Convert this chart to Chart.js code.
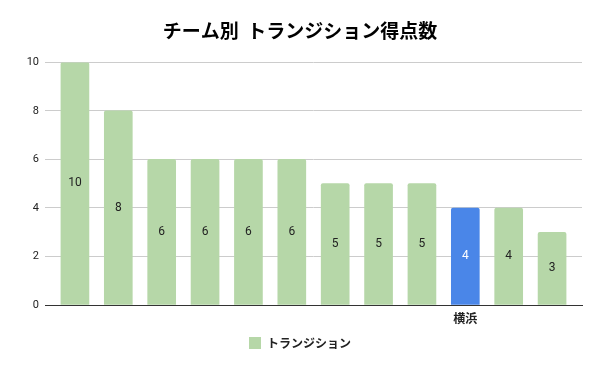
<!DOCTYPE html>
<html>
<head>
<meta charset="utf-8">
<script src="https://cdn.jsdelivr.net/npm/chart.js@4"></script>
<style>
html,body{margin:0;padding:0;background:#fff;}
#wrap{width:600px;height:371px;}
</style>
</head>
<body>
<div id="wrap"><canvas id="c" width="600" height="371"></canvas></div>
<script>
const chartTitle = 'チーム別  トランジション得点数';
const seriesName = 'トランジション';
const categories = ['', '', '', '', '', '', '', '', '', '横浜', '', ''];
const values = [10, 8, 6, 6, 6, 6, 5, 5, 5, 4, 4, 3];
const yTicks = [0, 2, 4, 6, 8, 10];
const highlightCategory = '横浜';

const GREEN = '#b6d7a8';
const BLUE = '#4a86e8';
const FONT = "Roboto, 'Noto Sans CJK JP', sans-serif";
const CJK = "'Noto Sans CJK JP', Roboto, sans-serif";

const labelPlugin = {
  id: 'barLabels',
  afterDatasetsDraw(chart) {
    const ctx = chart.ctx;
    const meta = chart.getDatasetMeta(0);
    ctx.save();
    ctx.font = '12px ' + FONT;
    ctx.textAlign = 'center';
    ctx.textBaseline = 'middle';
    meta.data.forEach((el, i) => {
      ctx.fillStyle = categories[i] === highlightCategory ? '#ffffff' : '#222222';
      ctx.fillText(String(values[i]), el.x, (el.y + el.base) / 2);
    });
    ctx.restore();
  }
};

new Chart(document.getElementById('c'), {
  type: 'bar',
  data: {
    datasets: [{
      label: seriesName,
      data: values.map((v, i) => ({x: i, y: v})),
      backgroundColor: (c) => categories[c.dataIndex] === highlightCategory ? BLUE : GREEN,
      borderWidth: 0,
      borderRadius: {topLeft: 2, topRight: 2, bottomLeft: 0, bottomRight: 0},
      borderSkipped: 'bottom',
      barThickness: 28
    }]
  },
  options: {
    responsive: false,
    animation: false,
    devicePixelRatio: 1,
    layout: {padding: {left: 18, right: 18, top: 0, bottom: 12}},
    plugins: {
      title: {
        display: true,
        text: chartTitle,
        color: '#000',
        font: {family: CJK, size: 19, weight: 'bold'},
        padding: {top: 19, bottom: 20.6}
      },
      legend: {
        display: true,
        position: 'bottom',
        labels: {
          color: '#222',
          font: {family: CJK, size: 12, weight: 'bold'},
          boxWidth: 12,
          boxHeight: 12,
          padding: 10
        }
      },
      tooltip: {enabled: false}
    },
    scales: {
      x: {
        type: 'linear',
        offset: false,
        min: -0.69,
        max: 11.69,
        grid: {display: false, drawTicks: false},
        border: {display: true, color: '#333', width: 1},
        afterBuildTicks: (s) => { s.ticks = categories.map((c, i) => ({value: i})); },
        ticks: {
          autoSkip: false,
          maxRotation: 0,
          padding: 6,
          color: '#222',
          font: {family: CJK, size: 12, weight: 'bold'},
          callback: (v) => categories[v] || ''
        },
        afterFit: (s) => { s.height = 22; }
      },
      y: {
        min: 0,
        max: 10,
        afterBuildTicks: (s) => { s.ticks = yTicks.map(v => ({value: v})); },
        grid: {color: '#cccccc', drawTicks: false},
        border: {display: false},
        ticks: {
          padding: 6,
          color: '#222',
          font: {family: FONT, size: 11}
        },
        afterFit: (s) => { s.width = 27; }
      }
    }
  },
  plugins: [labelPlugin]
});
</script>
</body>
</html>
